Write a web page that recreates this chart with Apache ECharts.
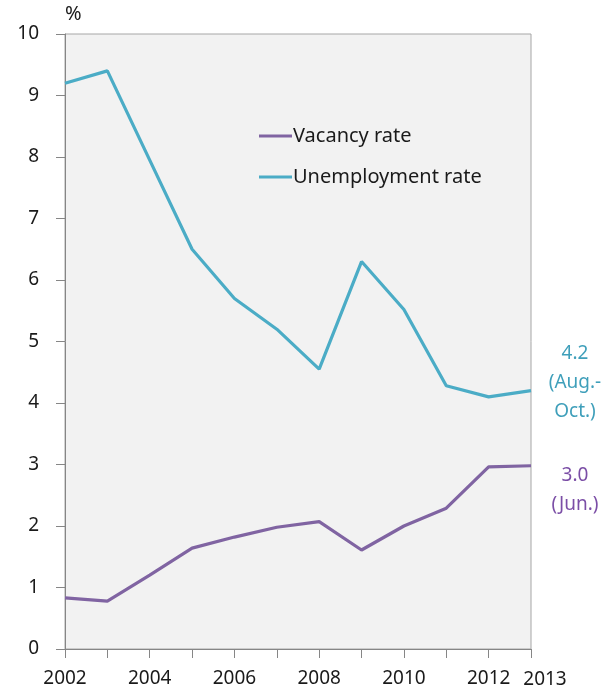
<!DOCTYPE html>
<html>
<head>
<meta charset="utf-8">
<script src="https://cdn.jsdelivr.net/npm/echarts@6/dist/echarts.min.js"></script>
<style>
  html, body { margin: 0; padding: 0; background: #fff; }
  #chart { width: 616px; height: 690px; }
</style>
</head>
<body>
<div id="chart"></div>
<script>
// data
const years = ['2002', '2003', '2004', '2005', '2006', '2007', '2008', '2009', '2010', '2011', '2012', '2013'];
const shownYears = ['2002', '2004', '2006', '2008', '2010', '2012', '2013'];
const vacancyRate = [0.83, 0.78, 1.2, 1.64, 1.82, 1.98, 2.07, 1.61, 2.0, 2.29, 2.96, 2.98];
const unemploymentRate = [9.2, 9.4, 7.95, 6.5, 5.7, 5.2, 4.55, 6.3, 5.52, 4.28, 4.1, 4.2];
const vacancyNote = '3.0\n(Jun.)';
const unemploymentNote = '4.2\n(Aug.-\nOct.)';

const FONT = '"Noto Sans", "Open Sans", sans-serif';
const purple = '#8064a2';
const teal = '#4bacc6';

const chart = echarts.init(document.getElementById('chart'));

chart.setOption({
    animation: false,
    textStyle: { fontFamily: FONT },
    grid: {
        left: 65, right: 85, top: 34, bottom: 41,
        show: true,
        backgroundColor: '#f2f2f2',
        borderColor: '#a6a6a6',
        borderWidth: 1
    },
    legend: {
        orient: 'vertical',
        left: 254,
        top: 121,
        itemGap: 21,
        itemWidth: 33,
        itemHeight: 3,
        icon: 'rect',
        textStyle: { fontSize: 20, color: '#1a1a1a', fontFamily: FONT, padding: [0, 0, 0, -4] },
        data: ['Vacancy rate', 'Unemployment rate']
    },
    xAxis: {
        type: 'category',
        data: years,
        boundaryGap: false,
        axisLine: { lineStyle: { color: '#868686', width: 1 } },
        axisTick: { show: true, interval: 0, length: 9, lineStyle: { color: '#868686' } },
        axisLabel: {
            interval: (i, v) => shownYears.includes(v),
            margin: 20,
            fontSize: 19,
            color: '#1a1a1a',
            fontFamily: FONT,
            formatter: v => v === '2013' ? '{r|' + v + '}' : v,
            rich: {
                r: { fontSize: 19, color: '#1a1a1a', fontFamily: FONT, padding: [1, 0, 0, 28] }
            }
        }
    },
    yAxis: {
        type: 'value',
        min: 0,
        max: 10,
        interval: 1,
        name: '%',
        nameGap: 10,
        nameTextStyle: { fontSize: 20, color: '#1a1a1a', align: 'left', fontFamily: FONT },
        axisLine: { show: true, lineStyle: { color: '#868686', width: 1 } },
        axisTick: { show: true, length: 9, lineStyle: { color: '#868686' } },
        axisLabel: { fontSize: 19, color: '#1a1a1a', margin: 26, fontFamily: FONT },
        splitLine: { show: false }
    },
    series: [
        {
            name: 'Vacancy rate',
            type: 'line',
            data: vacancyRate,
            symbol: 'none',
            color: purple,
            lineStyle: { width: 3.2, color: purple },
            endLabel: {
                show: true,
                formatter: vacancyNote,
                align: 'center',
                verticalAlign: 'top',
                distance: 44,
                offset: [0, -5],
                fontSize: 19,
                lineHeight: 29,
                color: '#7b4ea6',
                fontFamily: FONT
            }
        },
        {
            name: 'Unemployment rate',
            type: 'line',
            data: unemploymentRate,
            symbol: 'none',
            color: teal,
            lineStyle: { width: 3.2, color: teal },
            endLabel: {
                show: true,
                formatter: unemploymentNote,
                align: 'center',
                verticalAlign: 'middle',
                distance: 44,
                offset: [0, -8],
                fontSize: 19,
                lineHeight: 29,
                color: '#3f9fba',
                fontFamily: FONT
            }
        }
    ]
});
</script>
</body>
</html>
